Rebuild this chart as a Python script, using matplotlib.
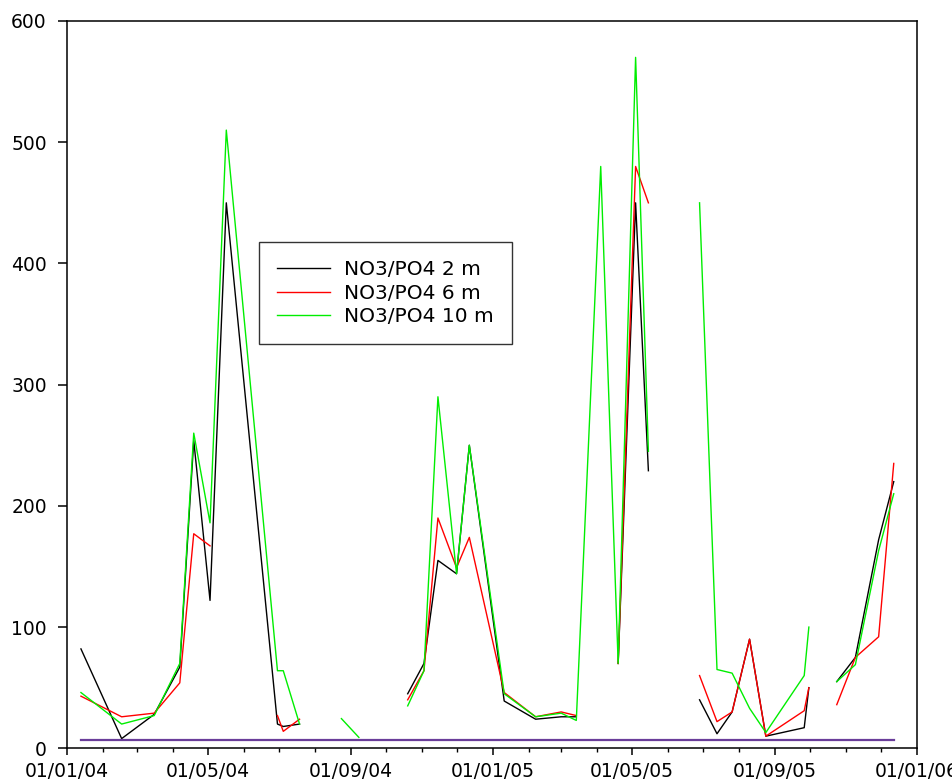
import numpy as np
import pandas as pd
import matplotlib
matplotlib.use('Agg')
import matplotlib.pyplot as plt
import matplotlib.dates as mdates

nan = np.nan

# Sampling dates (dd/mm/yy on the axis); rows where every depth is nan are missed cruises
dates = [
    '2004-01-13', '2004-02-17', '2004-03-16', '2004-04-07', '2004-04-19',
    '2004-05-03', '2004-05-17', '2004-06-30', '2004-07-05', '2004-07-19',
    '2004-08-05',
    '2004-08-24', '2004-09-08',
    '2004-09-30',
    '2004-10-20', '2004-11-03', '2004-11-15',
    '2004-12-01', '2004-12-12', '2005-01-11', '2005-02-07', '2005-03-01',
    '2005-03-14', '2005-04-04', '2005-04-19', '2005-05-04', '2005-05-15',
    '2005-06-01',
    '2005-06-28', '2005-07-13', '2005-07-26', '2005-08-10', '2005-08-24',
    '2005-09-26', '2005-09-30',
    '2005-10-10',
    '2005-10-24', '2005-11-09', '2005-11-29', '2005-12-12',
]

# NO3/PO4 ratios per depth (nan = no sample)
ratio_2m = [82, 8, 28, 67, 254, 122, 450, 20, 18, 20,
            nan,
            nan, nan,
            nan,
            45, 70, 155, 144, 250, 39, 24, 26,
            26, nan, 70, 450, 229,
            nan,
            40, 12, 30, 90, 10, 17, 50,
            nan,
            55, 75, 172, 220]
ratio_6m = [43, 26, 29, 54, 177, 167, nan, 27, 14, 24,
            nan,
            nan, nan,
            nan,
            40, 64, 190, 149, 174, 46, 26, 30,
            27, nan, 70, 480, 450,
            nan,
            60, 22, 30, 90, 10, 31, 50,
            nan,
            36, 75, 92, 235]
ratio_10m = [46, 20, 27, 70, 260, 186, 510, 64, 64, 20,
             nan,
             24.5, 9,
             nan,
             35, 64, 290, 144, 250, 45, 26, 29,
             23, 480, 70, 570, 245,
             nan,
             450, 65, 62, 33, 13, 60, 100,
             nan,
             55, 69, 163, 210]

# constant reference level drawn along the bottom
reference_level = 7

series_labels = ['NO3/PO4 2 m', 'NO3/PO4 6 m', 'NO3/PO4 10 m']
series_colors = ['black', '#ff0000', '#00ee00']


def main():
    x = pd.to_datetime(dates)
    plt.rcParams['font.family'] = ['DejaVu Sans']

    fig = plt.figure(figsize=(9.52, 7.84), dpi=100, facecolor='white')
    ax = fig.add_axes([67 / 952, 1 - 748.3 / 784, 850 / 952, 727.3 / 784])

    for vals, lab, col in zip([ratio_2m, ratio_6m, ratio_10m], series_labels, series_colors):
        ax.plot(x, vals, color=col, linewidth=1.0, label=lab)

    ax.plot([x[0], x[-1]], [reference_level, reference_level],
            color='#6a3d9a', linewidth=1.6, label='_nolegend_')

    ax.set_xlim(pd.Timestamp('2004-01-01'), pd.Timestamp('2006-01-01'))
    ax.set_ylim(0, 600)
    ax.set_yticks(range(0, 601, 100))

    ax.xaxis.set_major_locator(mdates.MonthLocator(bymonth=[1, 5, 9]))
    ax.xaxis.set_minor_locator(mdates.MonthLocator())
    ax.xaxis.set_major_formatter(mdates.DateFormatter('%d/%m/%y'))

    ax.tick_params(axis='x', which='major', direction='out', length=5, width=1.1,
                   labelsize=13.5, pad=5)
    ax.tick_params(axis='x', which='minor', direction='out', length=3, width=1.0)
    ax.tick_params(axis='y', direction='out', length=6.5, width=1.1,
                   labelsize=13.5, pad=8)
    for sp in ax.spines.values():
        sp.set_linewidth(1.1)

    leg = ax.legend(loc='upper left', bbox_to_anchor=(0.226, 0.696),
                    borderaxespad=0, fontsize=14.5, frameon=True, fancybox=False,
                    handlelength=2.6, handletextpad=0.7, borderpad=0.9,
                    labelspacing=0.22)
    leg.get_frame().set_edgecolor('black')
    leg.get_frame().set_linewidth(1.0)

    fig.savefig('out.png', dpi=100, facecolor='white')


if __name__ == '__main__':
    main()
